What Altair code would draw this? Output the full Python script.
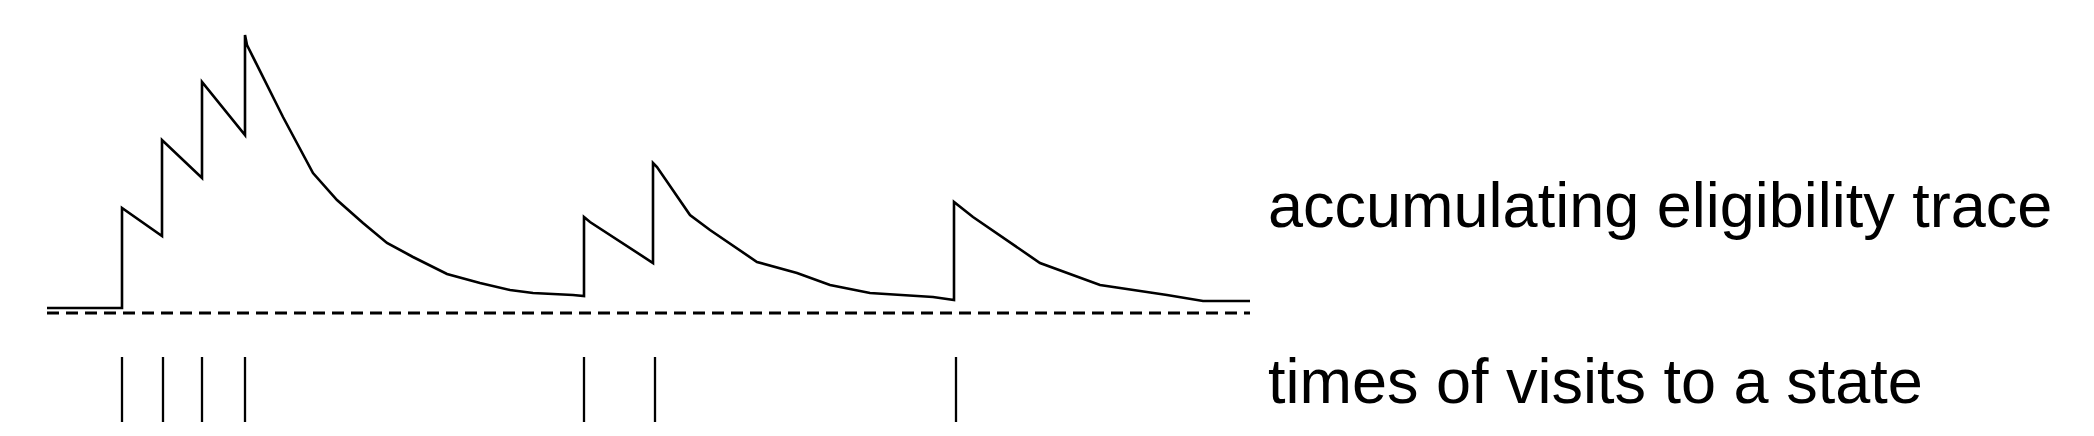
import altair as alt
import pandas as pd

# Eligibility trace (time, trace value)
trace_t = [0, 7.5, 7.5, 11.5, 11.5, 15.5, 15.5, 19.8, 19.8, 20.0, 23.6, 26.6, 29.0, 31.6,
           34.0, 36.6, 40.0, 43.3, 46.3, 48.6, 52.6, 53.7, 53.7, 54.3, 60.6, 60.6, 61.0,
           64.3, 66.3, 71.0, 75.0, 78.3, 82.3, 88.6, 90.7, 90.7, 92.6, 99.3, 105.3, 112.0,
           115.6, 120.3]
trace_e = [0.05, 0.05, 1.05, 0.77, 1.73, 1.35, 2.31, 1.78, 2.78, 2.68, 1.96, 1.40, 1.13, 0.90,
           0.70, 0.56, 0.39, 0.30, 0.23, 0.20, 0.18, 0.17, 0.96, 0.91, 0.50, 1.50, 1.46,
           0.98, 0.83, 0.51, 0.40, 0.28, 0.20, 0.16, 0.13, 1.11, 0.96, 0.50, 0.28, 0.18,
           0.12, 0.12]

# Times of visits to the state
visit_t = [7.5, 11.6, 15.5, 19.8, 53.7, 60.8, 90.9]
tick_top = -0.44
tick_bottom = -1.09

# Zero reference (dashed)
zero_t = [0, 120.3]
zero_e = [0, 0]

# Labels
label_text = ["accumulating eligibility trace", "times of visits to a state"]
label_t = [122.1, 122.1]
label_e = [0.86, -0.90]

trace_df = pd.DataFrame({"t": trace_t, "e": trace_e, "i": list(range(len(trace_t)))})
visit_df = pd.DataFrame({"t": visit_t, "y1": [tick_top] * len(visit_t),
                         "y2": [tick_bottom] * len(visit_t)})
zero_df = pd.DataFrame({"t": zero_t, "e": zero_e})
label_df = pd.DataFrame({"t": label_t, "e": label_e, "text": label_text})

xs = alt.Scale(domain=[-3.9, 203.9], nice=False, zero=False)
ys = alt.Scale(domain=[-1.11, 3.05], nice=False, zero=False)

zero_line = alt.Chart(zero_df).mark_line(
    color="black", strokeWidth=2.8, strokeDash=[12, 7]
).encode(
    x=alt.X("t:Q", scale=xs, axis=None),
    y=alt.Y("e:Q", scale=ys, axis=None),
)

trace = alt.Chart(trace_df).mark_line(
    color="black", strokeWidth=2.6
).encode(
    x=alt.X("t:Q", scale=xs, axis=None),
    y=alt.Y("e:Q", scale=ys, axis=None),
    order=alt.Order("i:Q"),
)

visits = alt.Chart(visit_df).mark_rule(color="black", strokeWidth=2.3).encode(
    x=alt.X("t:Q", scale=xs, axis=None),
    y=alt.Y("y1:Q", scale=ys, axis=None),
    y2="y2:Q",
)

labels = alt.Chart(label_df).mark_text(
    align="left", baseline="alphabetic", font="Liberation Sans", fontSize=63, color="black"
).encode(
    x=alt.X("t:Q", scale=xs, axis=None),
    y=alt.Y("e:Q", scale=ys, axis=None),
    text="text:N",
)

chart = alt.layer(zero_line, trace, visits, labels).properties(
    width=2078, height=416, padding=0, autosize="none", background="white"
).configure_view(stroke=None)

chart.save("out.html", embed_options={"renderer": "svg", "actions": False})
